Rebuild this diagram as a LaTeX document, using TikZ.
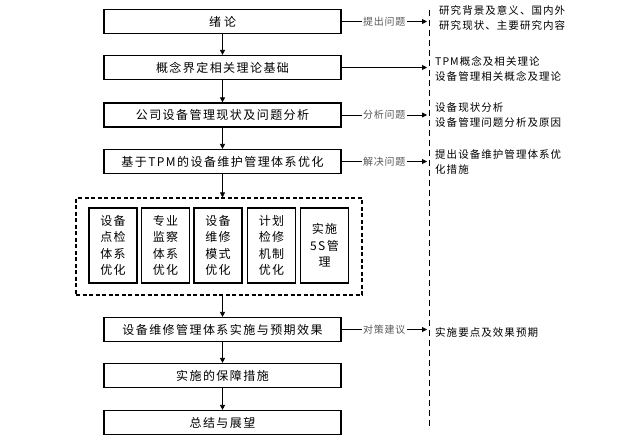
\documentclass[tikz,border=0pt]{standalone}
\usepackage{fontspec}
\setmainfont{Noto Sans CJK SC}
\newfontfamily\boxfont[LetterSpace=12]{Noto Sans CJK SC}
\newfontfamily\sidefont[LetterSpace=10]{Noto Sans CJK SC}
\newfontfamily\labfont[LetterSpace=8]{Noto Sans CJK SC}
\usetikzlibrary{arrows.meta}
\begin{document}
\begin{tikzpicture}[x=1pt,y=-1pt,
  mainbox/.style={draw, line width=1.2pt, minimum width=237pt, minimum height=24pt, inner sep=0pt,
    font=\boxfont\fontsize{12}{14}\selectfont},
  subbox/.style={draw, line width=1.2pt, minimum width=48pt, minimum height=75pt, inner sep=0pt,
    align=center, font=\boxfont\fontsize{12}{16.5}\selectfont},
  grpbox/.style={draw, line width=1.1pt, dash pattern=on 4pt off 2.5pt, minimum width=286pt, minimum height=97pt, inner sep=0pt},
  flow/.style={-{Triangle[length=5pt,width=5pt]}, line width=0.8pt},
  lab/.style={fill=white, inner sep=1.5pt, text=black!65, font=\labfont\fontsize{10}{12}\selectfont},
  side/.style={anchor=west, inner sep=0pt, align=left, font=\sidefont\fontsize{10.5}{15}\selectfont},
  sep/.style={line width=0.8pt, dash pattern=on 6pt off 4pt}]
\useasboundingbox (0,0) rectangle (628,447);

\node[mainbox] (b1) at (222.5,21.5) {绪\hspace{3pt}论};
\node[mainbox] (b2) at (222.5,67.5) {概念界定相关理论基础};
\node[mainbox] (b3) at (222.5,115) {公司设备管理现状及问题分析};
\node[mainbox] (b4) at (222.5,161.5) {基于TPM的设备维护管理体系优化};
\node[grpbox] (grp) at (219,246.5) {};
\node[subbox] (s1) at (113,245.5) {设备\\点检\\体系\\优化};
\node[subbox] (s2) at (165.5,245.5) {专业\\监察\\体系\\优化};
\node[subbox] (s3) at (218,245.5) {设备\\维修\\模式\\优化};
\node[subbox] (s4) at (271.5,245.5) {计划\\检修\\机制\\优化};
\node[subbox] (s5) at (324.5,245.5) {实施\\5S管\\理};
\node[mainbox] (b5) at (222.5,329.5) {设备维修管理体系实施与预期效果};
\node[mainbox] (b6) at (222.5,375.5) {实施的保障措施};
\node[mainbox] (b7) at (222.5,422.5) {总结与展望};

\draw[flow] (b1) -- (b2);
\draw[flow] (b2) -- (b3);
\draw[flow] (b3) -- (b4);
\draw[flow] (b4.south) -- (b4.south |- grp.north);
\draw[flow] (b5.north |- grp.south) -- (b5.north);
\draw[flow] (b5) -- (b6);
\draw[flow] (b6) -- (b7);

\coordinate (e1) at (427,21.5);
\coordinate (e2) at (427,67.5);
\coordinate (e3) at (427,115);
\coordinate (e4) at (427,161.5);
\coordinate (e5) at (427,329.5);
\draw[flow] (b1.east) -- node[lab] {提出问题} (e1);
\draw[flow] (b2.east) -- (e2);
\draw[flow] (b3.east) -- node[lab] {分析问题} (e3);
\draw[flow] (b4.east) -- node[lab] {解决问题} (e4);
\draw[flow] (b5.east) -- node[lab] {对策建议} (e5);

\coordinate (dtop) at (429,10);
\coordinate (dbot) at (429,428);
\draw[sep] (dtop) -- (dbot);

\node[side] (t1) at (439,18) {研究背景及意义、国内外\\研究现状、主要研究内容};
\node[side] (t2) at (435,68.5) {TPM概念及相关理论\\设备管理相关概念及理论};
\node[side] (t3) at (435,115) {设备现状分析\\设备管理问题分析及原因};
\node[side] (t4) at (435,161.5) {提出设备维护管理体系优\\化措施};
\node[side] (t5) at (435,332) {实施要点及效果预期};
\end{tikzpicture}
\end{document}
